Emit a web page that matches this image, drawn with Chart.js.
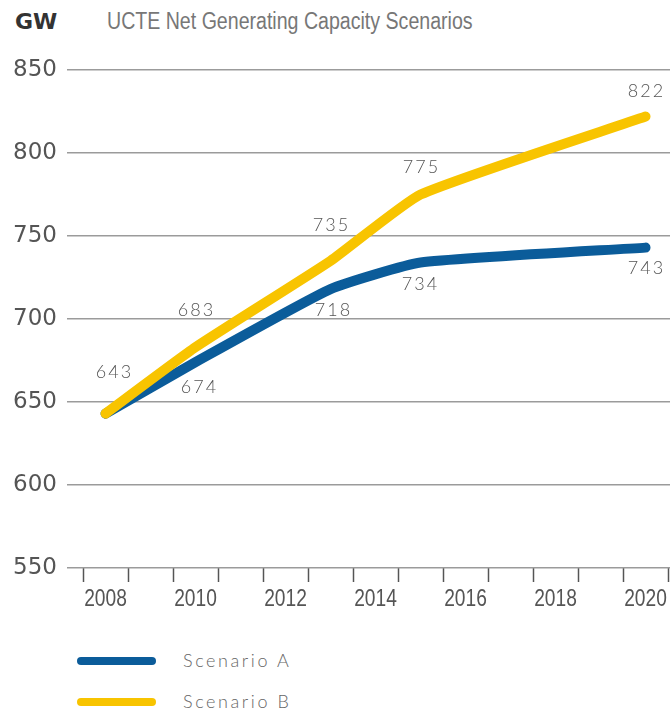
<!DOCTYPE html>
<html>
<head>
<meta charset="utf-8">
<script src="https://cdn.jsdelivr.net/npm/chart.js@4.4.1/dist/chart.umd.min.js"></script>
<style>
    body { margin: 0; background: #fff; width: 670px; height: 713px; overflow: hidden; position: relative; }
    #chartBox { position: absolute; left: 0; top: 0; width: 670px; height: 625px; }
    .unit { position: absolute; left: 15px; top: 9px; font: bold 22px "DejaVu Sans", sans-serif; color: #333; }
    .title { position: absolute; left: 107px; top: 8px; font: 23px "Liberation Sans", sans-serif; color: #777; white-space: nowrap; transform-origin: 0 50%; }
    .legendItem { position: absolute; left: 0; height: 20px; width: 400px; }
    .legendLine { position: absolute; left: 77px; top: 6px; width: 79px; height: 8px; border-radius: 4px; }
    .legendText { position: absolute; left: 183px; top: -2px; font: 300 18px Lato, sans-serif; letter-spacing: 2.6px; color: #666; }
</style>
</head>
<body>
<div class="unit">GW</div>
<div class="title" id="chartTitle">UCTE Net Generating Capacity Scenarios</div>
<div id="chartBox"><canvas id="capacityChart" width="670" height="625"></canvas></div>
<div class="legendItem" style="top: 651px"><div class="legendLine" style="background: #0b5c9a"></div><div class="legendText">Scenario A</div></div>
<div class="legendItem" style="top: 692px"><div class="legendLine" style="background: #f8c400"></div><div class="legendText">Scenario B</div></div>

<script>
const years = [2008, 2010, 2013, 2015, 2020]
const scenarioA = [643, 674, 718, 734, 743]
const scenarioB = [643, 683, 735, 775, 822]
const yTickValues = [550, 600, 650, 700, 750, 800, 850]
const axisYears = [2008, 2009, 2010, 2011, 2012, 2013, 2014, 2015, 2016, 2017, 2018, 2019, 2020]
const labeledYears = [2008, 2010, 2012, 2014, 2016, 2018, 2020]

// where each value label sits relative to its point (px)
const labelOffsetsA = [null, [3, 25], [2, 21], [-1, 22], [0, 21]]
const labelOffsetsB = [[8, -41], [0, -37], [0, -36], [0, -27], [0, -25]]

const blue = "#0b5c9a"
const yellow = "#f8c400"

// the source uses a condensed face, squeeze the title to its width
const titleEl = document.getElementById("chartTitle")
titleEl.style.transform = `scaleX(${366 / titleEl.offsetWidth})`

function toPoints(values) {
    return years.map((year, index) => ({ x: year, y: values[index] }))
}

const valueLabels = {
    id: "valueLabels",
    afterDatasetsDraw(chart) {
        const ctx = chart.ctx
        ctx.save()
        ctx.font = "300 18px Lato, sans-serif"
        ctx.letterSpacing = "2px"
        ctx.fillStyle = "#555"
        ctx.textAlign = "center"
        ctx.textBaseline = "middle"
        chart.data.datasets.forEach((dataset, i) => {
            const meta = chart.getDatasetMeta(i)
            meta.data.forEach((point, index) => {
                const offset = dataset.labelOffsets[index]
                if (!offset) return
                ctx.fillText(String(dataset.data[index].y), point.x + offset[0] + 1, point.y + offset[1])
            })
        })
        ctx.restore()
    }
}

// condensed year labels under the axis
const yearLabels = {
    id: "yearLabels",
    afterDraw(chart) {
        const ctx = chart.ctx
        const xScale = chart.scales.x
        ctx.save()
        ctx.font = "24px 'Liberation Sans', sans-serif"
        ctx.fillStyle = "#555"
        ctx.textAlign = "center"
        ctx.textBaseline = "middle"
        labeledYears.forEach((year) => {
            ctx.save()
            ctx.translate(xScale.getPixelForValue(year), xScale.top + 31)
            ctx.scale(0.8, 1)
            ctx.fillText(String(year), 0, 0)
            ctx.restore()
        })
        ctx.restore()
    }
}

new Chart(document.getElementById("capacityChart"), {
    type: "line",
    data: {
        datasets: [
            {
                label: "Scenario B",
                data: toPoints(scenarioB),
                labelOffsets: labelOffsetsB,
                borderColor: yellow,
                order: 0
            },
            {
                label: "Scenario A",
                data: toPoints(scenarioA),
                labelOffsets: labelOffsetsA,
                borderColor: blue,
                order: 1
            }
        ]
    },
    options: {
        responsive: false,
        animation: false,
        layout: { padding: { top: 70, left: 0, right: 0, bottom: 0 } },
        elements: {
            line: { borderWidth: 10, borderCapStyle: "round", borderJoinStyle: "round", tension: 0.15, fill: false },
            point: { radius: 0, hoverRadius: 0 }
        },
        plugins: {
            legend: { display: false },
            tooltip: { enabled: false }
        },
        scales: {
            x: {
                type: "linear",
                min: 2007.144,
                max: 2020.544,
                afterBuildTicks: (scale) => { scale.ticks = axisYears.map((value) => ({ value })) },
                afterFit: (scale) => { scale.height = 57 },
                grid: { offset: true, drawOnChartArea: false, tickLength: 14, color: "#555", tickColor: "#555", tickWidth: 1.5 },
                border: { display: false },
                ticks: {
                    autoSkip: false,
                    maxRotation: 0,
                    padding: 3,
                    callback: () => ""
                }
            },
            y: {
                min: 550,
                max: 850,
                afterBuildTicks: (scale) => { scale.ticks = yTickValues.map((value) => ({ value })) },
                afterFit: (scale) => { scale.width = 67 },
                grid: { color: "#9b9b9b", lineWidth: 1.5, drawTicks: false },
                border: { display: false },
                ticks: {
                    padding: 10,
                    color: "#555",
                    font: { family: "'DejaVu Sans', sans-serif", size: 23 }
                }
            }
        }
    },
    plugins: [valueLabels, yearLabels]
})
</script>
</body>
</html>
